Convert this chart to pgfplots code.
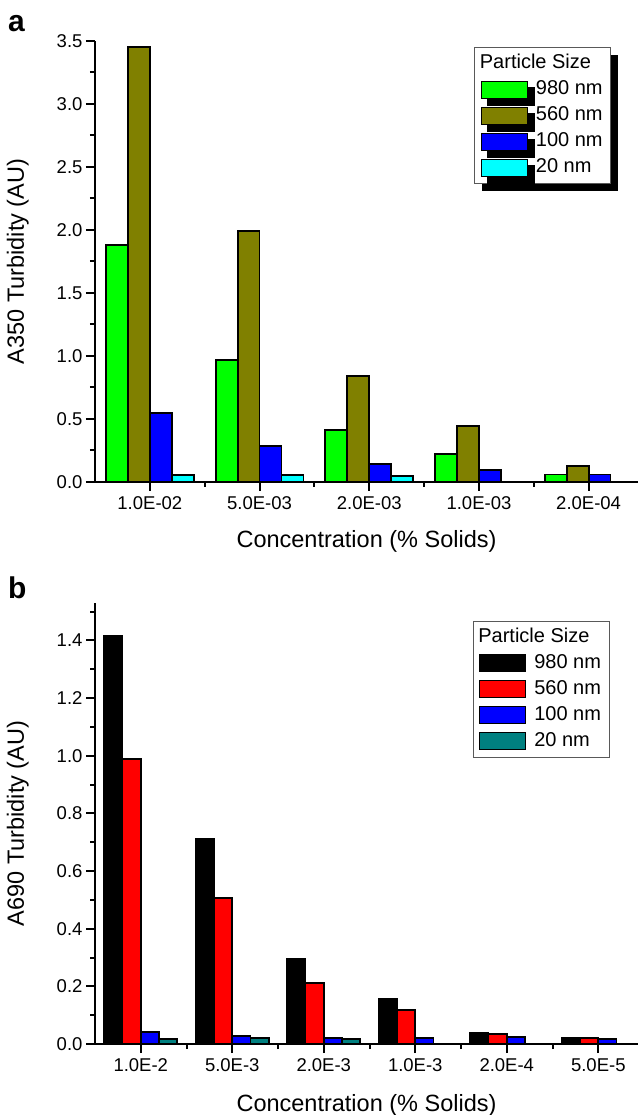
\documentclass[border=0pt]{standalone}
\usepackage{fontspec}
\setmainfont{Liberation Sans}
\usepackage{pgfplots}
\pgfplotsset{compat=1.18}
\usetikzlibrary{shadows}

\definecolor{cgreen}{RGB}{0,255,0}
\definecolor{colive}{RGB}{128,128,0}
\definecolor{cblue}{RGB}{0,0,255}
\definecolor{ccyan}{RGB}{0,255,255}
\definecolor{cred}{RGB}{255,0,0}
\definecolor{cteal}{RGB}{0,128,128}

\pgfplotsset{
  turb/.style={
    scale only axis,
    width=543pt, height=441pt,
    axis x line=bottom, axis y line=left,
    axis line style={-, line width=2pt},
    tick align=outside,
    major tick length=9pt, minor tick length=5pt,
    every tick/.style={black, line width=2pt},
    ybar, bar width=0.2,
    ymin=0,
    xmin=-0.5,
    xtick={0,...,5},
    /pgf/number format/assume math mode=true,
    tick label style={font=\fontsize{18.5}{22}\selectfont},
    xticklabel style={yshift=-2pt},
    yticklabel style={/pgf/number format/.cd, fixed, fixed zerofill, precision=1},
    label style={font=\fontsize{23.5}{28}\selectfont},
    xlabel={Concentration (\% Solids)},
    ylabel style={at={(axis description cs:-0.1308,0.5)}, anchor=base},
    every axis plot/.append style={draw=black, line width=1.8pt},
    legend cell align=left,
    legend style={
      draw=black!65, line width=0.8pt, fill=white, anchor=north west,
      inner xsep=6pt, inner ysep=5pt,
      row sep=4pt, column sep=6pt,
      nodes={inner sep=2pt, text height=14pt, text depth=4pt},
      font=\fontsize{20}{24}\selectfont,
    },
    legend image code/.code={\draw[##1, line width=1.2pt] (0pt,-8.5pt) rectangle (46pt,8.5pt);},
  }
}

\begin{document}
\begin{tikzpicture}
\path[use as bounding box] (0,0) rectangle (638pt,1115pt);

% ---- panel a ----
\begin{axis}[
  turb,
  at={(95pt,633pt)}, anchor=south west,
  xmax=4.45, ymax=3.5,
  xticklabels={1.0E-02,5.0E-03,2.0E-03,1.0E-03,2.0E-04},
  minor xtick={0.5,1.5,2.5,3.5},
  ytick={0,0.5,...,3.5},
  minor ytick={0.25,0.75,...,3.25},
  ylabel={A350 Turbidity (AU)},
  xlabel style={at={(axis description cs:0.5,0)}, anchor=base, yshift=-65.3pt},
  legend style={at={(axis description cs:0.6985,0.9857)},
    drop shadow={shadow xshift=7pt, shadow yshift=-7pt, fill=black, opacity=1}},
]
\addlegendimage{empty legend}
\addlegendentry{\hspace*{-56pt}Particle Size}
\addplot[fill=cgreen, bar shift=-0.3] coordinates {(0,1.88) (1,0.97) (2,0.41) (3,0.22) (4,0.06)};
\addlegendentry{980 nm}
\addplot[fill=colive, bar shift=-0.1] coordinates {(0,3.45) (1,1.99) (2,0.84) (3,0.445) (4,0.125)};
\addlegendentry{560 nm}
\addplot[fill=cblue, bar shift=0.1] coordinates {(0,0.55) (1,0.285) (2,0.145) (3,0.098) (4,0.06)};
\addlegendentry{100 nm}
\addplot[fill=ccyan, bar shift=0.3] coordinates {(0,0.058) (1,0.058) (2,0.05)};
\addlegendentry{20 nm}
\end{axis}

% ---- panel b ----
\begin{axis}[
  turb,
  at={(95pt,71pt)}, anchor=south west,
  xmax=5.434, ymax=1.53,
  xticklabels={1.0E-2,5.0E-3,2.0E-3,1.0E-3,2.0E-4,5.0E-5},
  minor xtick={0.5,1.5,2.5,3.5,4.5},
  ytick={0,0.2,...,1.4},
  minor ytick={0.1,0.3,...,1.5},
  ylabel={A690 Turbidity (AU)},
  xlabel style={at={(axis description cs:0.5,0)}, anchor=base, yshift=-67.7pt},
  legend style={at={(axis description cs:0.6956,0.9599)}},
]
\addlegendimage{empty legend}
\addlegendentry{\hspace*{-56pt}Particle Size}
\addplot[fill=black, bar shift=-0.3] coordinates {(0,1.415) (1,0.712) (2,0.296) (3,0.158) (4,0.04) (5,0.02)};
\addlegendentry{980 nm}
\addplot[fill=cred, bar shift=-0.1] coordinates {(0,0.988) (1,0.507) (2,0.212) (3,0.117) (4,0.036) (5,0.022)};
\addlegendentry{560 nm}
\addplot[fill=cblue, bar shift=0.1] coordinates {(0,0.041) (1,0.028) (2,0.021) (3,0.02) (4,0.023) (5,0.016)};
\addlegendentry{100 nm}
\addplot[fill=cteal, bar shift=0.3] coordinates {(0,0.017) (1,0.021) (2,0.018)};
\addlegendentry{20 nm}
\end{axis}

\node[anchor=base west, inner sep=0pt, font=\bfseries\fontsize{30}{36}\selectfont] at (8pt,1083pt) {a};
\node[anchor=base west, inner sep=0pt, font=\bfseries\fontsize{30}{36}\selectfont] at (8pt,516pt) {b};
\end{tikzpicture}
\end{document}
